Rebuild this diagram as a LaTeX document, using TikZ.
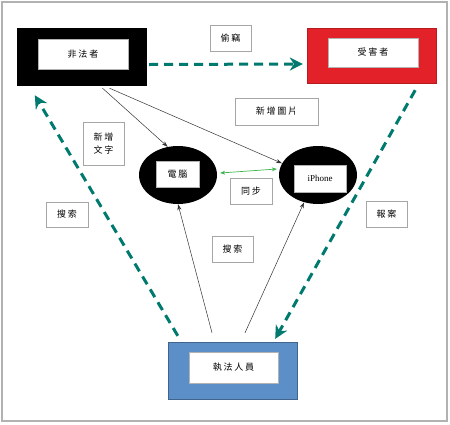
\documentclass[tikz,border=0pt]{standalone}
\usepackage{fontspec}
\setmainfont{Liberation Serif}
\newfontfamily\cjk[LetterSpace=20]{Noto Sans CJK TC}
\usetikzlibrary{arrows.meta,shapes.geometric}

\definecolor{flowteal}{RGB}{0,122,110}
\definecolor{victimred}{RGB}{226,34,40}
\definecolor{policeblue}{RGB}{92,143,200}
\definecolor{syncgreen}{RGB}{60,180,75}

\tikzset{
    frame/.style={minimum width=129pt, minimum height=57pt, inner sep=0pt},
    plate/.style={draw=gray!60, fill=white, minimum width=90pt, minimum height=30pt, inner sep=0pt, font=\cjk\small},
    device/.style={ellipse, fill=black, minimum width=78pt, minimum height=58pt, inner sep=0pt},
    tag/.style={draw=gray!70, fill=white, minimum height=26pt, inner sep=4pt, align=center, font=\cjk\small},
    flow/.style={flowteal, line width=3pt, dash pattern=on 9pt off 6pt, -{Stealth[length=13pt,width=13pt]}},
    thinarrow/.style={black!80, line width=0.5pt, -{Stealth[length=6pt,width=4pt]}}
}

\begin{document}
\begin{tikzpicture}[x=1pt, y=-1pt]
    \useasboundingbox (0,0) rectangle (450,424);
    % Outer frame
    \draw[gray!60, line width=1.2pt] (2,2) rectangle (447,421);

    % Parties
    \node[frame, fill=black, draw=black] (offender) at (81.5,56.5) {};
    \node[plate] (offenderlbl) at (83,54) {非法者};
    \node[frame, fill=victimred, draw=victimred!80!black, minimum height=55pt] (victim) at (371.5,55.5) {};
    \node[plate, minimum height=29pt] (victimlbl) at (373,52.5) {受害者};
    \node[frame, fill=policeblue, draw=policeblue!70!black] (police) at (232.5,370.5) {};
    \node[plate, minimum width=89pt, minimum height=31pt] (policelbl) at (233.5,367.5) {執法人員};

    % Devices
    \node[device] (pc) at (178,175) {};
    \node[plate, minimum width=43pt, minimum height=26pt] (pclbl) at (177.5,174) {電腦};
    \node[device] (iphone) at (318,175) {};
    \node[plate, minimum width=52pt, minimum height=27pt, font=\small] (iphonelbl) at (320,178.5) {iPhone};

    % Text nodes
    \node[tag, minimum width=41pt] (steal) at (230.5,38) {偷竊};
    \node[tag, minimum width=83pt, minimum height=27pt] (addimg) at (276.5,111.5) {新增圖片};
    \node[tag, minimum width=41pt, minimum height=43pt] (addtext) at (103.5,143.5) {新增\\[2pt]文字};
    \node[tag, minimum width=42pt] (sync) at (251,191) {同步};
    \node[tag, minimum width=42pt, minimum height=25pt] (searchleft) at (67,214.5) {搜索};
    \node[tag, minimum width=41pt] (report) at (386.5,214) {報案};
    \node[tag, minimum width=41pt] (searchmid) at (232.5,249) {搜索};

    % Dashed flows
    \draw[flow] ([xshift=3pt,yshift=-8pt]offender.east) -- ([xshift=-4pt,yshift=-8.5pt]victim.west);
    \draw[flow] ([xshift=-21pt,yshift=-7pt]victim.south east) -- ([xshift=-22pt,yshift=3pt]police.north east);
    \draw[flow] ([xshift=10pt,yshift=6pt]police.north west) -- ([xshift=18pt,yshift=-10pt]offender.south west);

    % Thin arrows
    \draw[thinarrow] ([xshift=21pt,yshift=-3pt]offender.south) -- (pc.110);
    \draw[thinarrow] ([xshift=28pt,yshift=-3pt]offender.south) -- (iphone.162);
    \draw[thinarrow] ([xshift=-20.5pt,yshift=9pt]police.north) -- (pc.south);
    \draw[thinarrow] ([xshift=12.5pt,yshift=9pt]police.north) -- (iphone.243);
    \draw[syncgreen, line width=0.7pt, {Stealth[length=5pt,width=4pt]}-{Stealth[length=5pt,width=4pt]}] ([xshift=3pt,yshift=2pt]pc.east) -- ([xshift=-2pt,yshift=6pt]iphone.west);
\end{tikzpicture}
\end{document}
